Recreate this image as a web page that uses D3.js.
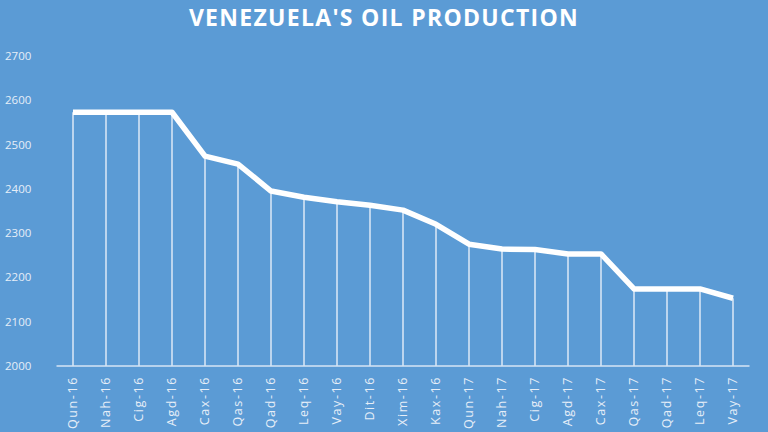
<!DOCTYPE html>
<html>
<head>
<meta charset="utf-8">
<script src="https://cdn.jsdelivr.net/npm/d3@7"></script>
<style>
html,body{margin:0;padding:0;background:#5b9bd5;}
svg{display:block;}
</style>
</head>
<body>
<svg id="chart" width="768" height="432"></svg>
<script>
const title = "VENEZUELA'S OIL PRODUCTION";
const categories = ["Qun-16","Nah-16","Cig-16","Agd-16","Cax-16","Qas-16","Qad-16","Leq-16","Vay-16","Dit-16","Xim-16","Kax-16","Qun-17","Nah-17","Cig-17","Agd-17","Cax-17","Qas-17","Qad-17","Leq-17","Vay-17"];
const production = [2573,2573,2573,2573,2474,2456,2395,2381,2371,2363,2352,2320,2275,2264,2263,2253,2253,2174,2174,2174,2153];
const yTicks = [2000,2100,2200,2300,2400,2500,2600,2700];

const svg = d3.select("#chart");
const W = 768, H = 432;
svg.append("rect").attr("width",W).attr("height",H).attr("fill","#5b9bd5");

const x = d3.scaleBand().domain(categories).range([56.5, 749.5]);
const y = d3.scaleLinear().domain([2000,2700]).range([366, 56]);

// title
svg.append("text")
  .attr("x", 384).attr("y", 26)
  .attr("text-anchor","middle")
  .attr("fill","#ffffff")
  .attr("font-family","'Open Sans', sans-serif")
  .attr("font-weight","bold")
  .attr("font-size", 23)
  .attr("letter-spacing", 1.3)
  .text(title);

// y labels
svg.append("g").selectAll("text").data(yTicks).join("text")
  .attr("x", 5).attr("y", d => y(d) + 4)
  .attr("fill","#e6eef8")
  .attr("font-family","'Open Sans', sans-serif")
  .attr("font-size", 11.5)
  .text(d => d);

const cx = d => x(d) + x.bandwidth()/2;

// drop lines
svg.append("g").selectAll("line").data(categories).join("line")
  .attr("x1", d => cx(d)).attr("x2", d => cx(d))
  .attr("y1", (d,i) => y(production[i])).attr("y2", y(2000))
  .attr("stroke","#dde9f6").attr("stroke-width",1.5);

// baseline
svg.append("line")
  .attr("x1", x.range()[0]).attr("x2", x.range()[1])
  .attr("y1", y(2000)).attr("y2", y(2000))
  .attr("stroke","#d6e4f4").attr("stroke-width",1.5);

// main line
const line = d3.line().x((d,i) => cx(categories[i])).y(d => y(d));
svg.append("path").datum(production)
  .attr("d", line)
  .attr("fill","none")
  .attr("stroke","#ffffff")
  .attr("stroke-width",5.5)
  .attr("stroke-linejoin","round");

// x labels
svg.append("g").selectAll("text").data(categories).join("text")
  .attr("transform", d => `translate(${cx(d)+4},${y(2000)+10}) rotate(-90)`)
  .attr("text-anchor","end")
  .attr("fill","#e6eef8")
  .attr("font-family","'Open Sans', sans-serif")
  .attr("font-size", 12.5)
  .attr("letter-spacing", 1.6)
  .text(d => d);
</script>
</body>
</html>
